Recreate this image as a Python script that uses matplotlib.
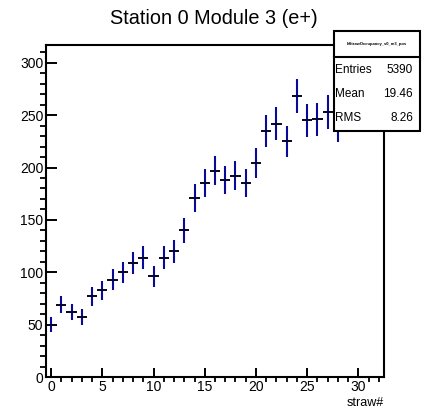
import numpy as np
import matplotlib
matplotlib.use("Agg")
import matplotlib.pyplot as plt
from matplotlib.patches import Rectangle

plt.rcParams['font.family'] = ['Liberation Sans', 'DejaVu Sans']

# bin centres (straw number) and counts
straw = np.arange(0, 32)
counts = [50, 69, 62, 57, 77, 83, 93, 100, 109, 114, 96, 114, 120, 140, 171, 185,
          197, 188, 192, 185, 204, 235, 242, 225, 268, 245, 246, 253, 240, 272, 280, 275]
errors = np.sqrt(counts)

title = "Station 0 Module 3 (e+)"
xlabel = "straw#"
stat_name = "hStrawOccupancy_s0_m3_pos"
stat_labels = ["Entries", "Mean", "RMS"]
stat_values = ["5390", "19.46", "8.26"]

fig = plt.figure(figsize=(4.24, 4.11), dpi=100)
ax = fig.add_axes([46 / 424, 34 / 411, 338 / 424, 332 / 411])

# vertical error bars blue, horizontal bin-width bars dark
ax.errorbar(straw, counts, yerr=errors, fmt='none', ecolor='#0a0a9a', elinewidth=1.5, capsize=0)
ax.errorbar(straw, counts, xerr=0.5, fmt='none', ecolor='#05051e', elinewidth=1.4, capsize=0)

ax.set_xlim(-0.5, 32.5)
ax.set_ylim(0, 317)
ax.set_xticks([0, 5, 10, 15, 20, 25, 30])
ax.set_xticks(np.arange(0, 33, 1), minor=True)
ax.set_yticks([0, 50, 100, 150, 200, 250, 300])
ax.set_yticks(np.arange(0, 317, 10), minor=True)
ax.tick_params(axis='both', direction='in', labelsize=10, width=1.4, pad=2, colors='black')
ax.tick_params(axis='y', which='major', length=8)
ax.tick_params(axis='y', which='minor', length=4.3, width=1.3)
ax.tick_params(axis='x', which='major', length=6.5)
ax.tick_params(axis='x', which='minor', length=3.6, width=1.3)
for s in ax.spines.values():
    s.set_linewidth(1.5)

fig.text(214 / 424, 1 - 18 / 411, title, ha='center', va='center', fontsize=14.3)
fig.text(384 / 424, 1 - 403 / 411, xlabel, ha='right', va='center', fontsize=9)

# stats box
bx0, bx1 = 334 / 424, 420 / 424
by0, by1 = 1 - 130.7 / 411, 1 - 30.7 / 411
fig.patches.append(Rectangle((bx0, by0), bx1 - bx0, by1 - by0, transform=fig.transFigure,
                             facecolor='white', edgecolor='black', lw=1.5, zorder=10))
fig.lines.append(plt.Line2D([bx0, bx1], [1 - 57.3 / 411] * 2, transform=fig.transFigure,
                            color='black', lw=1.5, zorder=11))
fig.text((bx0 + bx1) / 2, 1 - 44 / 411, stat_name, ha='center', va='center', fontsize=3,
         fontweight='bold', zorder=12)
for i, (lab, val) in enumerate(zip(stat_labels, stat_values)):
    y = 1 - (70 + 24.2 * i) / 411
    fig.text(335 / 424, y, lab, ha='left', va='center', fontsize=8.5, zorder=12)
    fig.text(413 / 424, y, val, ha='right', va='center', fontsize=8.5, zorder=12)

fig.savefig("out.png", dpi=100)
